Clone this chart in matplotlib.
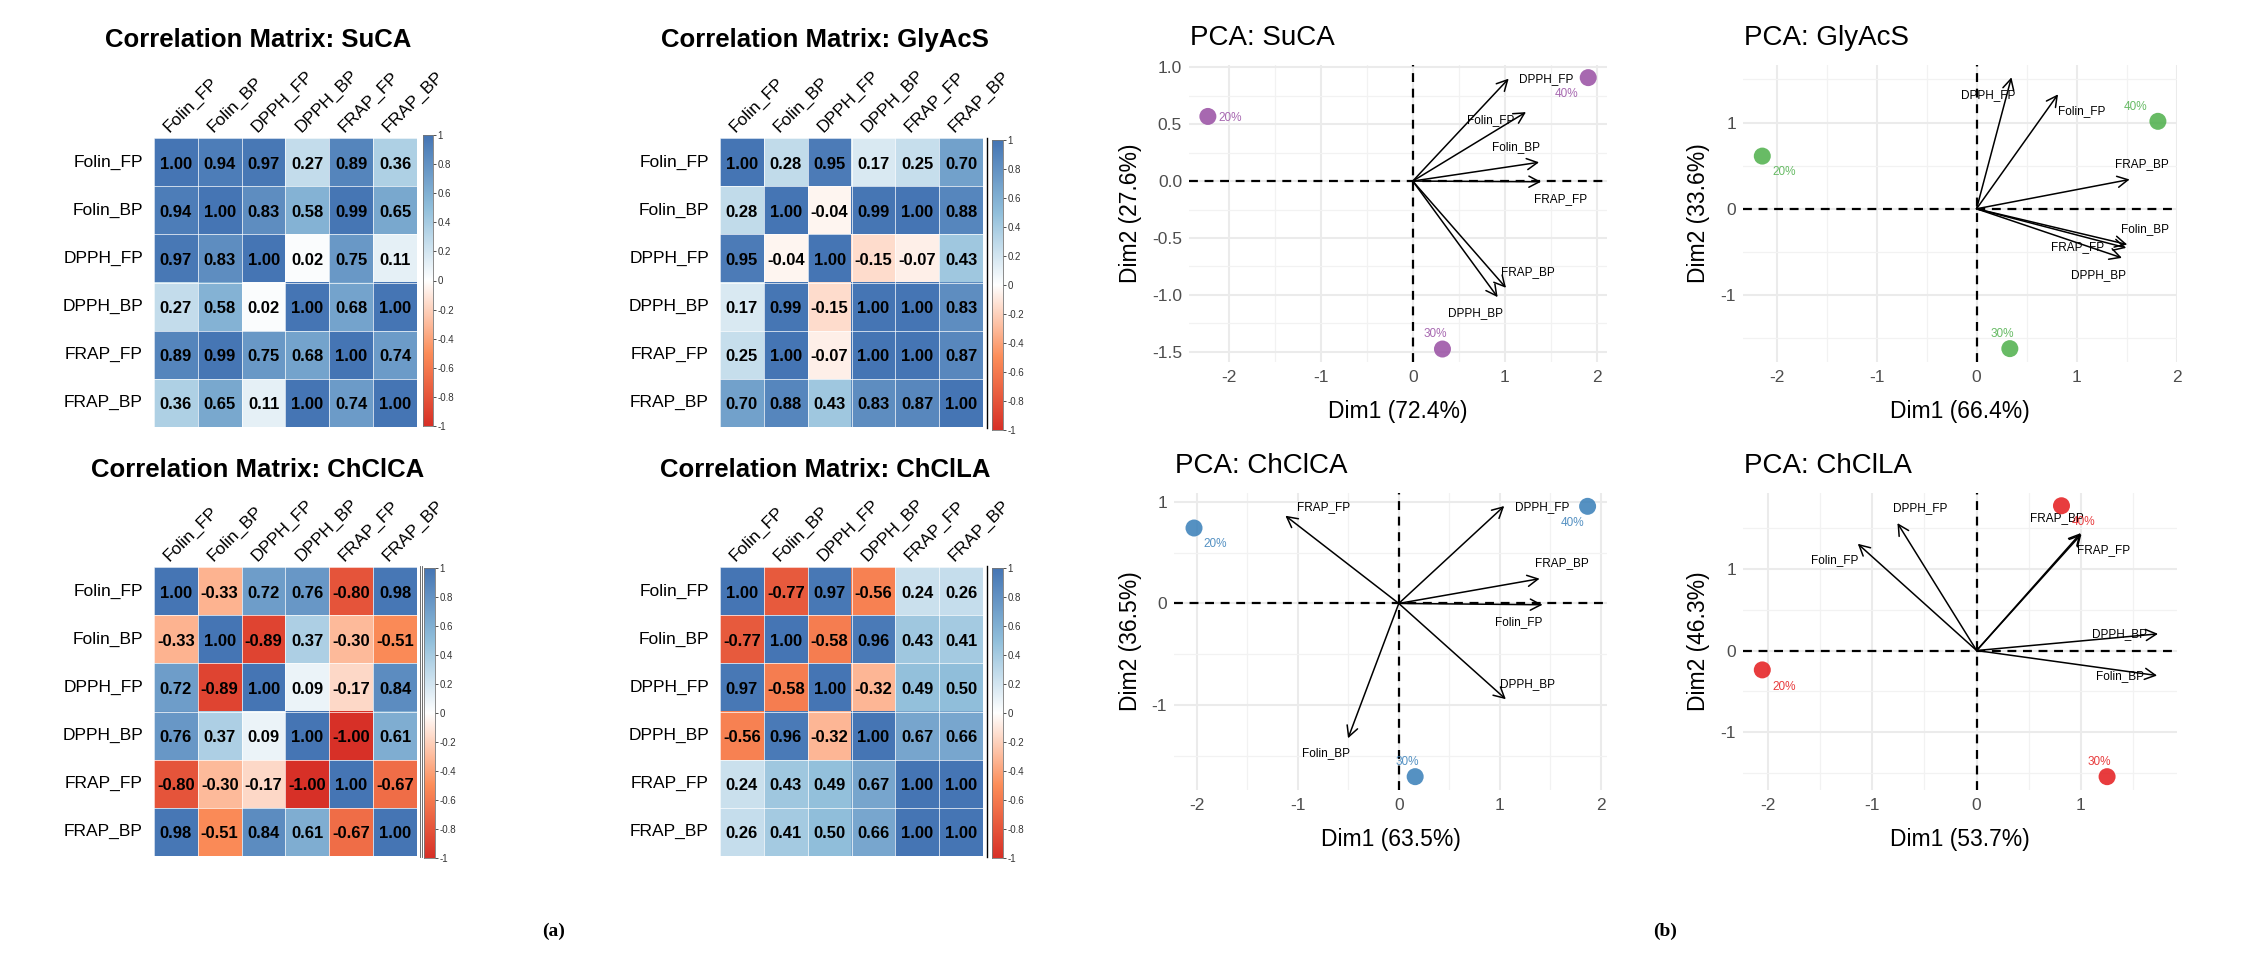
import numpy as np
import matplotlib
matplotlib.use("Agg")
import matplotlib.pyplot as plt
from matplotlib.colors import LinearSegmentedColormap
from matplotlib.patches import FancyArrowPatch
from matplotlib.lines import Line2D
from matplotlib.ticker import MultipleLocator, FuncFormatter

plt.rcParams['font.family'] = ['Liberation Sans', 'DejaVu Sans']
plt.rcParams['axes.unicode_minus'] = False

# ---------------- data ----------------
variables = ["Folin_FP", "Folin_BP", "DPPH_FP", "DPPH_BP", "FRAP_FP", "FRAP_BP"]
solvents = ["SuCA", "GlyAcS", "ChClCA", "ChClLA"]
concentrations = ["20%", "30%", "40%"]

corr_suca = [[1.00, 0.94, 0.97, 0.27, 0.89, 0.36],
             [0.94, 1.00, 0.83, 0.58, 0.99, 0.65],
             [0.97, 0.83, 1.00, 0.02, 0.75, 0.11],
             [0.27, 0.58, 0.02, 1.00, 0.68, 1.00],
             [0.89, 0.99, 0.75, 0.68, 1.00, 0.74],
             [0.36, 0.65, 0.11, 1.00, 0.74, 1.00]]
corr_glyacs = [[1.00, 0.28, 0.95, 0.17, 0.25, 0.70],
               [0.28, 1.00, -0.04, 0.99, 1.00, 0.88],
               [0.95, -0.04, 1.00, -0.15, -0.07, 0.43],
               [0.17, 0.99, -0.15, 1.00, 1.00, 0.83],
               [0.25, 1.00, -0.07, 1.00, 1.00, 0.87],
               [0.70, 0.88, 0.43, 0.83, 0.87, 1.00]]
corr_chclca = [[1.00, -0.33, 0.72, 0.76, -0.80, 0.98],
               [-0.33, 1.00, -0.89, 0.37, -0.30, -0.51],
               [0.72, -0.89, 1.00, 0.09, -0.17, 0.84],
               [0.76, 0.37, 0.09, 1.00, -1.00, 0.61],
               [-0.80, -0.30, -0.17, -1.00, 1.00, -0.67],
               [0.98, -0.51, 0.84, 0.61, -0.67, 1.00]]
corr_chclla = [[1.00, -0.77, 0.97, -0.56, 0.24, 0.26],
               [-0.77, 1.00, -0.58, 0.96, 0.43, 0.41],
               [0.97, -0.58, 1.00, -0.32, 0.49, 0.50],
               [-0.56, 0.96, -0.32, 1.00, 0.67, 0.66],
               [0.24, 0.43, 0.49, 0.67, 1.00, 1.00],
               [0.26, 0.41, 0.50, 0.66, 1.00, 1.00]]

# PCA scores (order: 20%, 30%, 40%)
suca_score_x = [-2.225, 0.323, 1.906]
suca_score_y = [0.568, -1.476, 0.909]
glyacs_score_x = [-2.143, 0.333, 1.814]
glyacs_score_y = [0.611, -1.621, 1.014]
chclca_score_x = [-2.026, 0.162, 1.868]
chclca_score_y = [0.741, -1.702, 0.954]
chclla_score_x = [-2.054, 1.250, 0.813]
chclla_score_y = [-0.237, -1.543, 1.771]

# PCA loadings (arrow tips, order of `variables`)
suca_load_x = [1.230, 1.372, 1.042, 0.922, 1.394, 1.013]
suca_load_y = [0.606, 0.165, 0.900, -1.020, -0.006, -0.938]
glyacs_load_x = [0.815, 1.507, 0.349, 1.454, 1.497, 1.531]
glyacs_load_y = [1.327, -0.414, 1.524, -0.569, -0.453, 0.340]
chclca_load_x = [1.422, -0.502, 1.043, 1.059, -1.122, 1.393]
chclca_load_y = [-0.013, -1.325, 0.957, -0.941, 0.862, 0.243]
chclla_load_x = [-1.139, 1.729, -0.759, 1.738, 1.005, 0.998]
chclla_load_y = [1.306, -0.306, 1.559, 0.204, 1.425, 1.437]

# variable label positions (repelled)
suca_vlab_x = [0.849, 1.122, 1.452, 0.679, 1.610, 1.249]
suca_vlab_y = [0.538, 0.297, 0.900, -1.162, -0.159, -0.800]
glyacs_vlab_x = [1.048, 1.687, 0.116, 1.215, 1.015, 1.657]
glyacs_vlab_y = [1.137, -0.240, 1.323, -0.770, -0.449, 0.518]
chclca_vlab_x = [1.185, -0.719, 1.416, 1.274, -0.746, 1.614]
chclca_vlab_y = [-0.187, -1.472, 0.944, -0.790, 0.948, 0.397]
chclla_vlab_x = [-1.365, 1.378, -0.542, 1.365, 1.219, 0.766]
chclla_vlab_y = [1.110, -0.318, 1.739, 0.196, 1.224, 1.620]

# score label positions
suca_slab_x = [-1.982, 0.247, 1.673]
suca_slab_y = [0.553, -1.344, 0.762]
glyacs_slab_x = [-1.927, 0.256, 1.590]
glyacs_slab_y = [0.422, -1.447, 1.176]
chclca_slab_x = [-1.818, 0.086, 1.723]
chclca_slab_y = [0.584, -1.561, 0.790]
chclla_slab_x = [-1.847, 1.180, 1.021]
chclla_slab_y = [-0.441, -1.367, 1.576]

dim1_pct = [72.4, 66.4, 63.5, 53.7]
dim2_pct = [27.6, 33.6, 36.5, 46.3]

# ---------------- figure ----------------
W, H = 2256, 976
fig = plt.figure(figsize=(W / 100, H / 100), dpi=100)
fig.patch.set_facecolor('white')


def px_rect(x0, x1, y0, y1):
    return [x0 / W, 1 - y1 / H, (x1 - x0) / W, (y1 - y0) / H]


def fx(x):
    return x / W


def fy(y):
    return 1 - y / H


cmap = LinearSegmentedColormap.from_list(
    "corr", ["#D73027", "#FC8D59", "#FFFFFF", "#91BFDB", "#4575B4"])


def draw_corr(mat, title, cell_box, cb_box, title_xy):
    M = np.array(mat)
    ax = fig.add_axes(px_rect(*cell_box))
    ax.imshow(M, cmap=cmap, vmin=-1, vmax=1, aspect='auto',
              interpolation='nearest', extent=(-0.5, 5.5, 5.5, -0.5))
    for k in range(7):
        ax.axhline(k - 0.5, color='white', lw=0.5)
        ax.axvline(k - 0.5, color='white', lw=0.5)
    ax.set_xlim(-0.5, 5.5)
    ax.set_ylim(5.5, -0.5)
    ax.axis('off')
    for i in range(6):
        for j in range(6):
            ax.text(j, i + 0.04, f"{M[i, j]:.2f}", ha='center', va='center',
                    fontsize=12, fontweight='bold', color='black')
    for i, v in enumerate(variables):
        ax.annotate(v, xy=(-0.5, i), xytext=(-8, 0), textcoords='offset points',
                    ha='right', va='center', fontsize=12.5, color='black',
                    annotation_clip=False)
        ax.annotate(v, xy=(i, -0.5), xytext=(-3, 2), textcoords='offset points',
                    ha='left', va='bottom', rotation=45, rotation_mode='anchor',
                    fontsize=12.5, color='black', annotation_clip=False)
    # colour bar
    cb = fig.add_axes(px_rect(*cb_box))
    cb.imshow(np.linspace(1, -1, 256)[:, None], cmap=cmap, vmin=-1, vmax=1,
              aspect='auto', extent=(0, 1, -1, 1))
    cb.set_xlim(0, 1)
    cb.set_ylim(-1, 1)
    cb.set_xticks([])
    cb.yaxis.tick_right()
    ticks = np.round(np.linspace(-1, 1, 11), 1)
    cb.set_yticks(ticks)
    cb.set_yticklabels([("%g" % t) for t in ticks])
    cb.tick_params(axis='y', labelsize=7, length=2, width=0.6, pad=1,
                   colors='#333333')
    for s in cb.spines.values():
        s.set_color('#777777')
        s.set_linewidth(0.6)
    fig.text(fx(title_xy[0]), fy(title_xy[1]), title, ha='center',
             va='baseline', fontsize=18.5, fontweight='bold')


draw_corr(corr_suca, "Correlation Matrix: " + solvents[0],
          (154, 417, 138, 427), (423, 433, 135, 426), (258, 47))
draw_corr(corr_glyacs, "Correlation Matrix: " + solvents[1],
          (720, 983, 138, 427), (992, 1003, 140, 430), (825, 47))
draw_corr(corr_chclca, "Correlation Matrix: " + solvents[2],
          (154, 417, 567, 856), (424, 435, 568, 858), (258, 477))
draw_corr(corr_chclla, "Correlation Matrix: " + solvents[3],
          (720, 983, 567, 856), (992, 1003, 568, 858), (825, 477))

# small border artefacts beside colour bars
fig.add_artist(Line2D([fx(987), fx(987)], [fy(138), fy(428)], color='black', lw=1.0))
fig.add_artist(Line2D([fx(987), fx(987)], [fy(566), fy(857)], color='black', lw=1.0))
fig.add_artist(Line2D([fx(419.5), fx(419.5)], [fy(566), fy(857)], color='#555555', lw=0.6))
fig.add_artist(Line2D([fx(421.5), fx(421.5)], [fy(566), fy(857)], color='#555555', lw=0.6))


def draw_pca(name, color, box, xlim, ylim, ymajor, yfmt,
             sx, sy, lx, ly, vlx, vly, slx, sly, d1, d2, ylab_x):
    ax = fig.add_axes(px_rect(*box))
    ax.set_xlim(*xlim)
    ax.set_ylim(*ylim)
    for s in ax.spines.values():
        s.set_visible(False)
    ax.set_facecolor('white')
    ax.xaxis.set_major_locator(MultipleLocator(1))
    ax.xaxis.set_minor_locator(MultipleLocator(0.5))
    ax.yaxis.set_major_locator(MultipleLocator(ymajor))
    ax.yaxis.set_minor_locator(MultipleLocator(ymajor / 2))
    ax.xaxis.set_major_formatter(FuncFormatter(lambda v, p: "%d" % round(v)))
    ax.yaxis.set_major_formatter(FuncFormatter(lambda v, p: yfmt % (v + 0.0)))
    ax.grid(which='major', color='#EBEBEB', lw=1.5, zorder=0)
    ax.grid(which='minor', color='#F2F2F2', lw=0.9, zorder=0)
    ax.set_axisbelow(True)
    ax.tick_params(which='both', length=0, labelsize=12.5, labelcolor='#4D4D4D')
    ax.tick_params(axis='x', pad=6)
    ax.tick_params(axis='y', pad=5)
    ax.axhline(0, color='black', lw=1.6, ls=(0, (4, 3)), zorder=2)
    ax.axvline(0, color='black', lw=1.6, ls=(0, (4, 3)), zorder=2)
    for k in range(len(variables)):
        arr = FancyArrowPatch((0, 0), (lx[k], ly[k]),
                              arrowstyle='->,head_length=0.38,head_width=0.2',
                              mutation_scale=20, color='black', lw=1.1,
                              shrinkA=0, shrinkB=0, zorder=3)
        ax.add_patch(arr)
        ax.text(vlx[k], vly[k], variables[k], ha='center', va='center',
                fontsize=8.5, color='black', zorder=4)
    ax.scatter(sx, sy, s=150, color=color, alpha=0.85, edgecolors='none', zorder=5)
    for k in range(len(concentrations)):
        ax.text(slx[k], sly[k], concentrations[k], ha='center', va='center',
                fontsize=8.5, color=color, alpha=0.85, zorder=5)
    x0, x1, y0, y1 = box
    fig.text(fx(x0 + 1), fy(y0 - 20), "PCA: " + name, ha='left', va='baseline',
             fontsize=20)
    fig.text(fx((x0 + x1) / 2), fy(y1 + 56), "Dim1 (%.1f%%)" % d1,
             ha='center', va='baseline', fontsize=16.5)
    fig.text(fx(ylab_x), fy((y0 + y1) / 2), "Dim2 (%.1f%%)" % d2,
             ha='center', va='center', rotation=90, fontsize=16.5)


draw_pca(solvents[0], "#984EA3", (1189, 1607, 65, 362), (-2.43, 2.11), (-1.59, 1.02),
         0.5, "%.1f", suca_score_x, suca_score_y, suca_load_x, suca_load_y,
         suca_vlab_x, suca_vlab_y, suca_slab_x, suca_slab_y,
         dim1_pct[0], dim2_pct[0], 1130)
draw_pca(solvents[1], "#4DAF4A", (1743, 2177, 65, 362), (-2.336, 2.005), (-1.776, 1.667),
         1.0, "%d", glyacs_score_x, glyacs_score_y, glyacs_load_x, glyacs_load_y,
         glyacs_vlab_x, glyacs_vlab_y, glyacs_slab_x, glyacs_slab_y,
         dim1_pct[1], dim2_pct[1], 1698)
draw_pca(solvents[2], "#377EB8", (1174, 1607, 493, 790), (-2.224, 2.06), (-1.833, 1.085),
         1.0, "%d", chclca_score_x, chclca_score_y, chclca_load_x, chclca_load_y,
         chclca_vlab_x, chclca_vlab_y, chclca_slab_x, chclca_slab_y,
         dim1_pct[2], dim2_pct[2], 1130)
draw_pca(solvents[3], "#E41A1C", (1743, 2177, 493, 790), (-2.239, 1.92), (-1.706, 1.927),
         1.0, "%d", chclla_score_x, chclla_score_y, chclla_load_x, chclla_load_y,
         chclla_vlab_x, chclla_vlab_y, chclla_slab_x, chclla_slab_y,
         dim1_pct[3], dim2_pct[3], 1698)

fig.text(fx(554), fy(931), "(a)", ha='center', va='center', fontsize=14,
         fontweight='bold', family=['Liberation Serif', 'DejaVu Serif'])
fig.text(fx(1665), fy(931), "(b)", ha='center', va='center', fontsize=14,
         fontweight='bold', family=['Liberation Serif', 'DejaVu Serif'])

fig.savefig("out.png", dpi=100, facecolor='white')
